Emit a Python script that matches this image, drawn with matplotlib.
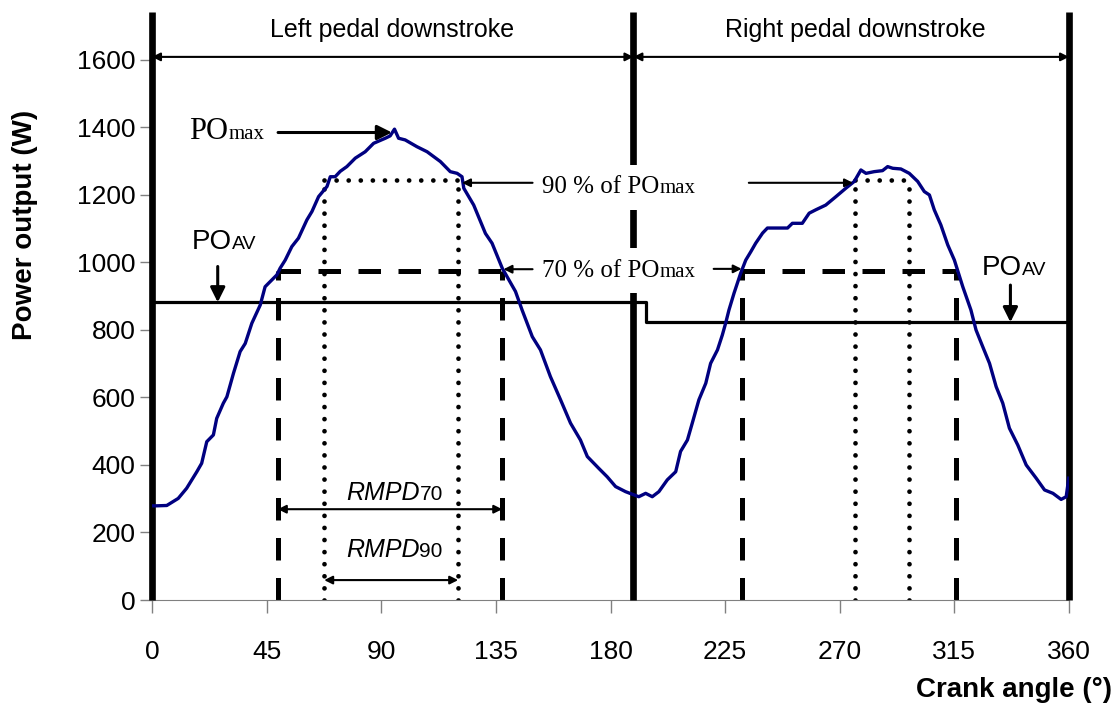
import matplotlib
matplotlib.use("Agg")
import matplotlib.pyplot as plt
from matplotlib.patches import Rectangle

plt.rcParams['font.family'] = ['Liberation Sans', 'DejaVu Sans']
serif = ['Liberation Serif', 'DejaVu Serif']

# power trace
crank_angle = [0, 1.8, 5.8, 10.3, 13.6, 17.6, 19.5, 21.5, 24.1, 25.4, 28, 29.4, 32, 34.6, 36.6,
               39.2, 42.5, 44.4, 45.7, 49, 50.3, 52.3, 54.9, 57.5, 60.8, 62.8, 65.4, 68.7, 70,
               71.9, 73.9, 76.5, 79.8, 83.7, 87, 91.6, 93.5, 95.2, 96.8, 99.4, 104, 108, 113.2,
               117.1, 119.8, 121.7, 122.4, 126.3, 130.9, 133.5, 137.5, 142.7, 145.3, 149.3,
               152.5, 156.4, 160.4, 164.3, 168.2, 170.9, 175.4, 178.7, 182, 185.9, 191.1,
               193.8, 196.4, 199, 202.3, 205.6, 207.5, 210.2, 212.1, 214.7, 217.4, 219.3, 222,
               223.9, 225.2, 226.5, 228.5, 231.1, 233.1, 235.1, 237, 239.7, 241.6, 249.5,
               251.4, 255.3, 258, 260.6, 264.5, 268.5, 272.4, 275.7, 278.3, 280.3, 283.5,
               286.8, 288.8, 290.8, 294, 297.3, 300.6, 303.2, 305.2, 307.1, 309.7, 312.4, 315,
               318.3, 321.5, 323.5, 326.1, 328.8, 331.4, 334, 336.6, 339.9, 343.2, 347.1,
               350.4, 353.7, 356.9, 358.9, 359.9]
power = [279, 279, 280, 301, 331, 380, 405, 469, 489, 538, 583, 602, 672, 736, 760,
         820, 874, 928, 938, 963, 983, 1007, 1047, 1072, 1126, 1151, 1195, 1225, 1254,
         1254, 1270, 1284, 1309, 1328, 1353, 1368, 1375, 1395, 1368, 1363, 1343, 1328, 1299,
         1269, 1264, 1254, 1220, 1170, 1086, 1057, 983, 914, 859, 780,
         741, 662, 593, 524, 474, 425, 390, 365, 336, 321, 306,
         316, 306, 321, 356, 380, 440, 474, 524, 593, 642, 701, 741,
         785, 820, 859, 909, 968, 1007, 1032, 1057, 1087, 1102, 1102,
         1116, 1116, 1146, 1156, 1170, 1195, 1220, 1240, 1274, 1264, 1269,
         1272, 1284, 1279, 1277, 1264, 1240, 1210, 1200, 1156, 1111, 1052, 1007,
         928, 859, 800, 751, 701, 632, 583, 509, 459, 400, 361,
         326, 316, 298, 306, 361]

stroke_limits = [0, 189, 360]
po_max = 1395
po_max_angle = 95.2
level_90 = 1245
level_70 = 976
rmpd90_left = [67.6, 120.2]
rmpd90_right = [276, 297]
rmpd70_left = [49.4, 137.5]
rmpd70_right = [231.8, 315.6]
po_av_angles = [0, 194, 194, 360]
po_av_values = [882, 882, 823, 823]

fig = plt.figure(figsize=(11.2, 7.09), dpi=100)
ax = fig.add_axes([152 / 1120, 109 / 709, 917 / 1120, 588 / 709])
ax.set_xlim(0, 360)
ax.set_ylim(0, 1742)

for s in ['top', 'right', 'left']:
    ax.spines[s].set_visible(False)
ax.spines['bottom'].set_color('#808080')
ax.set_xticks(range(0, 361, 45))
ax.set_yticks(range(0, 1601, 200))
ax.tick_params(axis='both', direction='out', color='#808080', length=9, width=1, labelsize=19)
ax.tick_params(axis='x', pad=20)
ax.tick_params(axis='y', pad=3)

# stroke boundaries
lc = ax.vlines(stroke_limits, 0, 1742, color='black', lw=4.8, zorder=3)
lc.set_clip_on(False)

# 70 % dashed
dash = dict(color='black', lw=3.6, dashes=(4.5, 3.5), zorder=2)
for a, b in [rmpd70_left, rmpd70_right]:
    ax.plot([a, b], [level_70, level_70], **dash)
    ax.plot([a, a], [0, level_70], **dash)
    ax.plot([b, b], [0, level_70], **dash)

# 90 % dotted
dot = dict(color='black', lw=3.4, dashes=(0.01, 2.55), dash_capstyle='round', zorder=2)
for a, b in [rmpd90_left, rmpd90_right]:
    ax.plot([a, b], [level_90, level_90], **dot)
    ax.plot([a, a], [0, level_90], **dot)
    ax.plot([b, b], [0, level_90], **dot)

# mean power
ax.plot(po_av_angles, po_av_values, color='black', lw=2.3, zorder=2)

ax.plot(crank_angle, power, color='#000080', lw=2.4, zorder=4)

# white boxes behind the level labels
ax.add_patch(Rectangle((149.4, 1156), 84.9, 133, facecolor='white', edgecolor='none', zorder=5))
ax.add_patch(Rectangle((149.4, 910), 71.1, 133, facecolor='white', edgecolor='none', zorder=5))

def two_part(x, y, big, small, bs, ss, family=None, style='normal', small_style='normal'):
    kw = dict(va='baseline', zorder=6, color='black')
    if family:
        kw['family'] = family
    ax.text(x, y, big, ha='right', fontsize=bs, style=style, **kw)
    ax.text(x, y, small, ha='left', fontsize=ss, style=small_style, **kw)

two_part(29.9, 1365, 'PO', 'max', 22, 15, family=serif)
two_part(199.3, 1207, '90 % of PO', 'max', 18, 15, family=serif)
two_part(199.3, 956, '70 % of PO', 'max', 18, 15, family=serif)
two_part(31.4, 1040, 'PO', 'AV', 20, 14)
two_part(341.6, 963, 'PO', 'AV', 20, 14)
two_part(105, 296, 'RMPD', '70', 18, 15, style='italic')
two_part(105, 128, 'RMPD', '90', 18, 15, style='italic')

big_head = dict(arrowstyle='-|>', color='black', lw=2.2, mutation_scale=22, shrinkA=0, shrinkB=0)
small_head = dict(arrowstyle='-|>', color='black', lw=1.5, mutation_scale=12, shrinkA=0, shrinkB=0)
both = dict(arrowstyle='<|-|>', color='black', lw=1.5, mutation_scale=12, shrinkA=0, shrinkB=0)

ax.annotate('', xy=(94.2, 1385), xytext=(49.5, 1385), arrowprops=big_head, zorder=6)
ax.annotate('', xy=(121.7, 1236), xytext=(149.4, 1236), arrowprops=small_head, zorder=6)
ax.annotate('', xy=(275.2, 1236), xytext=(234.3, 1236), arrowprops=small_head, zorder=6)
ax.annotate('', xy=(138, 980), xytext=(149.4, 980), arrowprops=small_head, zorder=6)
ax.annotate('', xy=(231.5, 981), xytext=(220.5, 981), arrowprops=small_head, zorder=6)
ax.annotate('', xy=(25.8, po_av_values[0]), xytext=(25.8, 988), arrowprops=big_head, zorder=6)
ax.annotate('', xy=(337, po_av_values[-1]), xytext=(337, 933), arrowprops=big_head, zorder=6)
ax.annotate('', xy=(rmpd70_left[0], 269), xytext=(rmpd70_left[1], 269), arrowprops=both, zorder=6)
ax.annotate('', xy=(rmpd90_left[0], 59), xytext=(rmpd90_left[1], 59), arrowprops=both, zorder=6)
ax.annotate('', xy=(stroke_limits[0], 1609), xytext=(stroke_limits[1], 1609), arrowprops=both, zorder=6)
ax.annotate('', xy=(stroke_limits[1], 1609), xytext=(stroke_limits[2], 1609), arrowprops=both, zorder=6)

ax.text(94.3, 1689, 'Left pedal downstroke', ha='center', va='center', fontsize=18)
ax.text(276.3, 1689, 'Right pedal downstroke', ha='center', va='center', fontsize=18)

fig.text(25 / 1120, 1 - 225 / 709, 'Power output (W)', rotation=90, ha='center', va='center',
         fontsize=20, fontweight='bold')
fig.text(1112 / 1120, 1 - 690 / 709, 'Crank angle (°)', ha='right', va='center',
         fontsize=20, fontweight='bold')

fig.savefig('out.png', dpi=100)
